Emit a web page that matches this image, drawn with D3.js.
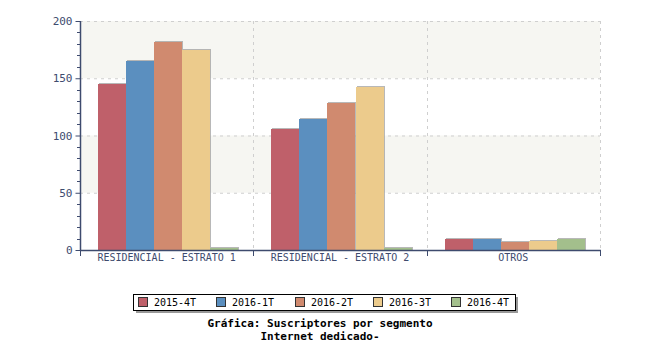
<!DOCTYPE html>
<html><head><meta charset="utf-8">
<script src="https://cdn.jsdelivr.net/npm/d3@7"></script>
<style>body{margin:0;background:#fff}svg{display:block}</style>
</head><body>
<svg id="c" width="650" height="350"></svg>
<script>
const categories = ["RESIDENCIAL - ESTRATO 1", "RESIDENCIAL - ESTRATO 2", "OTROS"];
const seriesNames = ["2015-4T", "2016-1T", "2016-2T", "2016-3T", "2016-4T"];
const s2015_4T = [145, 106, 10];
const s2016_1T = [165, 114, 10];
const s2016_2T = [182, 128, 7];
const s2016_3T = [175, 142, 8];
const s2016_4T = [2, 2, 10];
const colors = ["#bf606a", "#5b8fbf", "#d08a6f", "#eccb8c", "#a3bf8c"];
const yTicks = [0, 50, 100, 150, 200];
const titleLines = ["Gráfica: Suscriptores por segmento", "Internet dedicado-"];

const seriesValues = [s2015_4T, s2016_1T, s2016_2T, s2016_3T, s2016_4T];
const svg = d3.select("#c");
const L = 80, R = 600, T = 21, B = 250;
const axisColor = "#3e4b6e";
const font = "'DejaVu Sans Mono', monospace";

const x0 = d3.scaleBand().domain(categories).range([L, R]).paddingInner(0).paddingOuter(0);
const x1 = d3.scaleBand().domain(seriesNames).range([18, x0.bandwidth() - 15]).padding(0);
const y = d3.scaleLinear().domain([0, 200]).range([B, T]);

// background bands
[[150, 200], [50, 100]].forEach(([a, b]) => {
  svg.append("rect").attr("x", L).attr("width", R - L).attr("y", y(b)).attr("height", y(a) - y(b)).attr("fill", "#f6f6f2");
});
// grid
yTicks.filter(d => d > 0).forEach(d => {
  svg.append("line").attr("x1", L).attr("x2", R).attr("y1", y(d) + 0.5).attr("y2", y(d) + 0.5)
    .attr("stroke", "#cfcfcf").attr("stroke-dasharray", "3,4");
});
categories.forEach(c => {
  const xx = Math.round(x0(c) + x0.bandwidth()) + 0.5;
  svg.append("line").attr("x1", xx).attr("x2", xx).attr("y1", T).attr("y2", B)
    .attr("stroke", "#cfcfcf").attr("stroke-dasharray", "3,4");
});

// bars
seriesNames.forEach((s, si) => {
  categories.forEach((c, ci) => {
    const v = seriesValues[si][ci];
    const bx = Math.round(x0(c) + x1(s));
    const bw = Math.round(x1.bandwidth());
    const by = Math.round(y(v));
    svg.append("rect").attr("x", bx + 1).attr("y", by - 1).attr("width", bw).attr("height", B - by + 1)
      .attr("fill", "#9a9a9a").attr("opacity", 0.7);
    svg.append("rect").attr("x", bx).attr("y", by).attr("width", bw).attr("height", B - by)
      .attr("fill", colors[si]);
  });
});

// y axis
const yAxis = d3.axisLeft(y).tickValues(yTicks).tickSize(5).tickPadding(3);
const gy = svg.append("g").attr("transform", `translate(${L + 0.5},0)`).call(yAxis);
gy.select(".domain").remove();
svg.append("line").attr("x1", L + 0.5).attr("x2", L + 0.5).attr("y1", T).attr("y2", B + 1).attr("stroke", axisColor).attr("stroke-width", 1.5);
gy.selectAll("line").attr("stroke", axisColor);
gy.selectAll("text").attr("fill", axisColor).style("font-family", font).style("font-size", "11px");
d3.range(0, 201, 10).filter(d => d % 50 !== 0).forEach(d => {
  svg.append("line").attr("x1", L - 3).attr("x2", L).attr("y1", Math.round(y(d)) + 0.5).attr("y2", Math.round(y(d)) + 0.5).attr("stroke", axisColor);
});

// x axis
svg.append("line").attr("x1", L).attr("x2", R + 1).attr("y1", B + 0.5).attr("y2", B + 0.5).attr("stroke", axisColor).attr("stroke-width", 1.5);
[L].concat(categories.map(c => x0(c) + x0.bandwidth())).forEach(xx => {
  svg.append("line").attr("x1", Math.round(xx) + 0.5).attr("x2", Math.round(xx) + 0.5).attr("y1", B).attr("y2", B + 6).attr("stroke", axisColor);
});
categories.forEach(c => {
  svg.append("text").attr("x", x0(c) + x0.bandwidth() / 2).attr("y", B + 11).attr("text-anchor", "middle")
    .attr("fill", axisColor).style("font-family", font).style("font-size", "10px").text(c);
});

// legend
const lg = svg.append("g");
lg.append("rect").attr("x", 136).attr("y", 297).attr("width", 382).attr("height", 16).attr("fill", "#999");
lg.append("rect").attr("x", 133.5).attr("y", 294.5).attr("width", 382).attr("height", 16).attr("fill", "#fff").attr("stroke", "#000");
seriesNames.forEach((s, i) => {
  const lx = 138 + i * 78.3;
  lg.append("rect").attr("x", Math.round(lx) + 0.5).attr("y", 297.5).attr("width", 9).attr("height", 9).attr("fill", colors[i]).attr("stroke", "#333");
  lg.append("text").attr("x", Math.round(lx) + 16).attr("y", 306).attr("fill", "#000")
    .style("font-family", font).style("font-size", "10px").text(s);
});

// title
titleLines.forEach((t, i) => {
  svg.append("text").attr("x", 320).attr("y", 327 + i * 13).attr("text-anchor", "middle")
    .attr("fill", "#000").style("font-family", font).style("font-size", "11px").style("font-weight", "bold").text(t);
});
</script>
</body></html>
